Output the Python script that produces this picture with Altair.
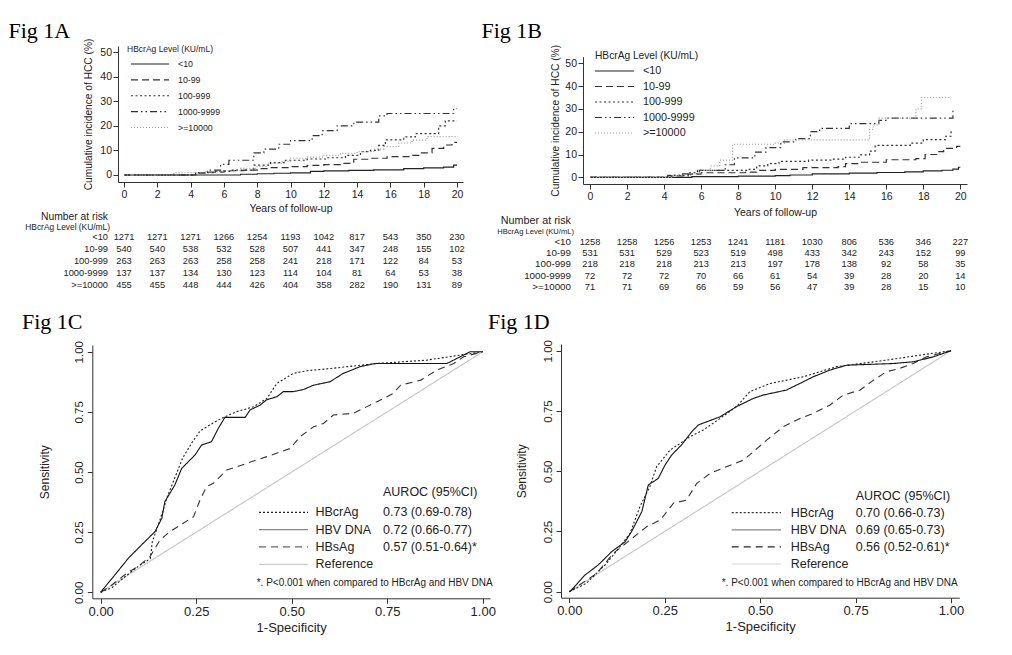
import altair as alt
import pandas as pd

W, H, M = 996, 639, 8
SANS = "Liberation Sans"
SERIF = "Liberation Serif"
INK = "#222222"

# ---------------- Fig 1A / 1B : cumulative incidence (step curves) ----------------
groups = ["<10", "10-99", "100-999", "1000-9999", ">=10000"]
years = [0, 2, 4, 6, 8, 10, 12, 14, 16, 18, 20]

A_t_lt10 = [0, 7.0, 8.0, 9.0, 10.0, 11.2, 12.0, 13.5, 15.0, 16.8, 18.0, 19.2, 19.8, 20.0]
A_v_lt10 = [0, 0.3, 0.5, 0.7, 0.9, 1.5, 1.7, 1.9, 2.1, 2.6, 2.9, 3.2, 4.0, 4.0]
A_t_10_99 = [0, 4.3, 5.0, 6.0, 7.2, 8.1, 8.8, 10.0, 11.0, 12.0, 13.0, 13.8, 14.8, 15.8, 17.2, 17.8, 18.5, 19.2, 19.7, 20.0]
A_v_10_99 = [0, 0.8, 1.2, 1.8, 2.0, 2.6, 3.0, 3.4, 3.9, 4.2, 4.7, 6.4, 6.8, 7.5, 8.0, 9.0, 10.8, 12.2, 13.3, 13.3]
A_t_100_999 = [0, 4.3, 5.5, 6.5, 7.8, 8.8, 9.7, 11.0, 12.2, 13.3, 14.2, 14.8, 15.3, 15.7, 16.8, 17.5, 18.9, 19.3, 20.0]
A_v_100_999 = [0, 1.0, 1.5, 2.0, 4.0, 5.0, 6.0, 6.5, 7.0, 8.0, 9.5, 10.0, 12.0, 14.3, 15.5, 16.8, 20.0, 22.0, 22.0]
A_t_1000 = [0, 4.3, 5.0, 5.8, 6.3, 7.8, 8.4, 9.3, 10.0, 11.3, 11.9, 12.8, 13.8, 15.3, 15.8, 19.8, 20.0]
A_v_1000 = [0, 0.8, 2.0, 4.3, 6.0, 9.0, 10.5, 12.5, 14.0, 16.0, 18.0, 20.0, 21.5, 24.0, 25.0, 27.0, 27.0]
A_t_10000 = [0, 3.0, 4.8, 6.0, 7.0, 8.0, 8.6, 9.5, 10.0, 11.0, 12.0, 13.0, 14.0, 15.0, 15.6, 16.5, 17.3, 18.2, 20.0]
A_v_10000 = [0, 1.0, 1.3, 1.8, 2.7, 3.5, 4.7, 5.5, 6.8, 7.3, 8.0, 8.8, 9.5, 10.5, 11.5, 13.0, 14.2, 15.6, 15.6]

B_t_lt10 = [0, 5.5, 8.0, 10.0, 10.8, 12.0, 14.0, 15.5, 17.0, 18.0, 19.0, 19.6, 19.9, 20.0]
B_v_lt10 = [0, 0.3, 0.5, 0.7, 1.0, 1.5, 1.8, 2.1, 2.4, 2.8, 3.1, 3.6, 4.4, 4.4]
B_t_10_99 = [0, 4.4, 5.3, 6.0, 8.4, 9.0, 10.0, 11.5, 13.4, 13.8, 14.6, 16.0, 17.6, 18.1, 18.8, 19.1, 19.8, 20.0]
B_v_10_99 = [0, 0.6, 1.4, 2.0, 2.3, 3.0, 3.5, 4.2, 4.7, 6.0, 6.6, 7.7, 8.2, 10.0, 11.3, 12.7, 13.6, 13.6]
B_t_100_999 = [0, 4.4, 5.3, 5.8, 8.6, 9.0, 9.6, 10.2, 11.8, 13.0, 13.8, 14.6, 15.1, 15.4, 17.3, 18.0, 19.2, 19.5]
B_v_100_999 = [0, 0.8, 2.0, 3.0, 3.5, 5.0, 6.0, 7.0, 7.5, 8.0, 8.8, 9.8, 11.5, 14.0, 15.0, 16.5, 18.0, 20.5]
B_t_1000 = [0, 4.2, 5.0, 5.9, 7.3, 7.8, 8.9, 9.5, 10.3, 11.1, 11.9, 12.4, 14.0, 15.6, 16.1, 19.6]
B_v_1000 = [0, 0.8, 1.5, 3.0, 5.5, 8.5, 11.0, 13.0, 15.5, 17.0, 20.0, 21.5, 23.5, 25.0, 26.0, 30.5]
B_t_10000 = [0, 4.5, 5.5, 6.0, 6.5, 7.0, 7.7, 10.0, 10.5, 15.1, 15.3, 15.6, 17.6, 17.9, 19.4]
B_v_10000 = [0, 0.8, 1.5, 3.0, 5.0, 7.5, 14.5, 15.0, 16.4, 21.0, 23.0, 26.0, 30.0, 35.0, 35.0]

# number at risk
A_risk_lt10 = [1271, 1271, 1271, 1266, 1254, 1193, 1042, 817, 543, 350, 230]
A_risk_10_99 = [540, 540, 538, 532, 528, 507, 441, 347, 248, 155, 102]
A_risk_100_999 = [263, 263, 263, 258, 258, 241, 218, 171, 122, 84, 53]
A_risk_1000 = [137, 137, 134, 130, 123, 114, 104, 81, 64, 53, 38]
A_risk_10000 = [455, 455, 448, 444, 426, 404, 358, 282, 190, 131, 89]
B_risk_lt10 = [1258, 1258, 1256, 1253, 1241, 1181, 1030, 806, 536, 346, 227]
B_risk_10_99 = [531, 531, 529, 523, 519, 498, 433, 342, 243, 152, 99]
B_risk_100_999 = [218, 218, 218, 213, 213, 197, 178, 138, 92, 58, 35]
B_risk_1000 = [72, 72, 72, 70, 66, 61, 54, 39, 28, 20, 14]
B_risk_10000 = [71, 71, 69, 66, 59, 56, 47, 39, 28, 15, 10]

# ---------------- Fig 1C / 1D : ROC curves ----------------
roc_names = ["Reference", "HBsAg", "HBV DNA", "HBcrAg"]
ref_x = [0, 1]
ref_y = [0, 1]

C_crag_x = [0, 0.03, 0.06, 0.1, 0.13, 0.135, 0.155, 0.175, 0.195, 0.215, 0.238, 0.26, 0.29, 0.321, 0.356, 0.4, 0.435, 0.461, 0.504, 0.539, 0.6, 0.722, 0.853, 0.941, 1.0]
C_crag_y = [0, 0.02, 0.06, 0.11, 0.14, 0.21, 0.3, 0.4, 0.48, 0.56, 0.62, 0.67, 0.7, 0.727, 0.751, 0.771, 0.806, 0.868, 0.91, 0.921, 0.93, 0.951, 0.965, 0.986, 1.0]
C_dna_x = [0, 0.01, 0.037, 0.072, 0.107, 0.142, 0.151, 0.16, 0.168, 0.194, 0.212, 0.247, 0.264, 0.29, 0.308, 0.325, 0.378, 0.391, 0.417, 0.434, 0.461, 0.478, 0.504, 0.531, 0.557, 0.6, 0.635, 0.679, 0.718, 0.906, 0.941, 0.967, 1.0]
C_dna_y = [0, 0.02, 0.072, 0.141, 0.197, 0.252, 0.28, 0.308, 0.377, 0.446, 0.515, 0.571, 0.612, 0.626, 0.682, 0.727, 0.727, 0.758, 0.778, 0.8, 0.813, 0.834, 0.834, 0.843, 0.861, 0.875, 0.91, 0.938, 0.951, 0.951, 0.979, 1.0, 1.0]
C_sag_x = [0, 0.024, 0.068, 0.1, 0.129, 0.155, 0.181, 0.216, 0.243, 0.26, 0.277, 0.295, 0.33, 0.382, 0.435, 0.496, 0.522, 0.557, 0.583, 0.609, 0.661, 0.723, 0.766, 0.785, 0.838, 0.88, 0.924, 0.95, 1.0]
C_sag_y = [0, 0.024, 0.079, 0.11, 0.148, 0.217, 0.252, 0.287, 0.314, 0.384, 0.439, 0.453, 0.508, 0.536, 0.564, 0.598, 0.647, 0.688, 0.702, 0.737, 0.744, 0.792, 0.827, 0.861, 0.882, 0.924, 0.951, 0.979, 1.0]

D_crag_x = [0, 0.045, 0.098, 0.133, 0.159, 0.185, 0.211, 0.229, 0.264, 0.29, 0.316, 0.351, 0.395, 0.438, 0.473, 0.526, 0.613, 0.7, 0.831, 0.919, 1.0]
D_crag_y = [0, 0.035, 0.118, 0.187, 0.242, 0.353, 0.436, 0.519, 0.588, 0.615, 0.643, 0.671, 0.719, 0.768, 0.83, 0.864, 0.892, 0.934, 0.961, 0.982, 1.0]
D_dna_x = [0, 0.006, 0.041, 0.076, 0.111, 0.146, 0.163, 0.19, 0.207, 0.233, 0.251, 0.268, 0.294, 0.321, 0.338, 0.395, 0.438, 0.482, 0.508, 0.569, 0.604, 0.639, 0.683, 0.727, 0.849, 0.901, 0.954, 1.0]
D_dna_y = [0, 0.007, 0.069, 0.111, 0.166, 0.207, 0.249, 0.332, 0.443, 0.47, 0.526, 0.567, 0.609, 0.664, 0.692, 0.726, 0.768, 0.802, 0.816, 0.837, 0.864, 0.892, 0.92, 0.94, 0.947, 0.954, 0.975, 1.0]
D_sag_x = [0, 0.072, 0.115, 0.159, 0.203, 0.238, 0.273, 0.307, 0.334, 0.369, 0.412, 0.456, 0.482, 0.517, 0.561, 0.604, 0.639, 0.683, 0.718, 0.762, 0.797, 0.831, 0.866, 0.901, 0.936, 1.0]
D_sag_y = [0, 0.076, 0.159, 0.214, 0.27, 0.297, 0.367, 0.38, 0.45, 0.491, 0.519, 0.546, 0.581, 0.629, 0.685, 0.719, 0.74, 0.775, 0.816, 0.837, 0.878, 0.913, 0.927, 0.947, 0.975, 1.0]

leg_names = ["HBcrAg", "HBV DNA", "HBsAg", "Reference"]
C_auroc = ["0.73 (0.69-0.78)", "0.72 (0.66-0.77)", "0.57 (0.51-0.64)*", ""]
D_auroc = ["0.70 (0.66-0.73)", "0.69 (0.65-0.73)", "0.56 (0.52-0.61)*", ""]
roc_ticks = [0, 0.25, 0.5, 0.75, 1.0]

# ---------------- styles ----------------
km_dash = [[1, 0], [7, 4], [2, 2.5], [7, 3, 1.5, 3, 1.5, 3], [1, 2]]
km_col = ["#222222", "#333333", "#333333", "#333333", "#a0a0a0"]
roc_dash = [[1, 0], [7, 5], [1, 0], [2, 2]]
roc_col = ["#c4c4c4", "#333333", "#111111", "#222222"]

# panel geometry (page pixels of axis extents, matching data extents)
PA = dict(xd=[-0.36, 20.36], xr=[118, 463], yd=[-2.85, 52.44], yr=[182, 46])
PB = dict(xd=[-0.38, 20.36], xr=[583, 967], yd=[-2.94, 52.9], yr=[184, 56.7])
PC = dict(xd=[-0.022, 1.019], xr=[92.3, 490], yd=[-0.025, 1.028], yr=[598.3, 345])
PD = dict(xd=[-0.0217, 1.0217], xr=[561, 959.3], yd=[-0.025, 1.028], yr=[597.7, 344])


def lin(domain, rng):
    return alt.Scale(domain=domain, range=[r - M for r in rng], nice=False, zero=False)


def axis_common():
    return dict(grid=False, domainColor="#333333", tickColor="#333333", labelColor=INK,
                titleColor=INK, labelFont=SANS, titleFont=SANS, titleFontWeight="normal",
                labelFlush=False, labelOverlap=False, domainWidth=1, tickWidth=1)


def note(text, x, y, size, font=SANS, align="left", baseline="middle", color=INK):
    return alt.Chart(pd.DataFrame({"s": [text]})).mark_text(
        align=align, baseline=baseline, font=font, fontSize=size, color=color
    ).encode(x=alt.value(x - M), y=alt.value(y - M), text="s:N")


def km_layer(P, series, xtitle_pad, ytitle_pad, xlab_pad):
    rows = []
    for g, (ts, vs) in zip(groups, series):
        for i, (t, v) in enumerate(zip(ts, vs)):
            rows.append({"g": g, "t": t, "v": v, "i": i})
    df = pd.DataFrame(rows)
    xa = alt.Axis(orient="bottom", offset=(P["yr"][0] - M) - H, values=years, format="d",
                  title="Years of follow-up", tickSize=5, labelPadding=xlab_pad,
                  titlePadding=xtitle_pad, labelFontSize=10.5, titleFontSize=10.5,
                  **axis_common())
    ya = alt.Axis(orient="left", offset=-(P["xr"][0] - M), values=[0, 10, 20, 30, 40, 50],
                  format="d", title="Cumulative incidence of HCC (%)", tickSize=5,
                  labelPadding=1.5, titlePadding=ytitle_pad, labelFontSize=10.5,
                  titleFontSize=10.2, **axis_common())
    return alt.Chart(df).mark_line(interpolate="step-after", strokeWidth=1.2).encode(
        x=alt.X("t:Q", scale=lin(P["xd"], P["xr"]), axis=xa),
        y=alt.Y("v:Q", scale=lin(P["yd"], P["yr"]), axis=ya),
        color=alt.Color("g:N", scale=alt.Scale(domain=groups, range=km_col), legend=None),
        strokeDash=alt.StrokeDash("g:N", scale=alt.Scale(domain=groups, range=km_dash), legend=None),
        order="i:Q",
    )


def km_legend(x0, x1, xl, y0, y1, size):
    df = pd.DataFrame({"g": groups, "r": list(range(len(groups)))})
    ys = alt.Scale(domain=[0, len(groups) - 1], range=[y0 - M, y1 - M], nice=False, zero=False)
    rule = alt.Chart(df).mark_rule(strokeWidth=1.2).encode(
        x=alt.value(x0 - M), x2=alt.value(x1 - M),
        y=alt.Y("r:Q", scale=ys, axis=None),
        color=alt.Color("g:N", scale=alt.Scale(domain=groups, range=km_col), legend=None),
        strokeDash=alt.StrokeDash("g:N", scale=alt.Scale(domain=groups, range=km_dash), legend=None),
    )
    txt = alt.Chart(df).mark_text(align="left", baseline="middle", font=SANS, fontSize=size,
                                  color=INK).encode(
        x=alt.value(xl - M), y=alt.Y("r:Q", scale=ys, axis=None), text="g:N")
    return [rule, txt]


def risk_table(P, risks, row_top, row_bot, label_right, size_num, size_lab):
    rows = []
    for g, vals in zip(groups, risks):
        for yv, n in zip(years, vals):
            rows.append({"g": g, "yr": yv, "n": str(n)})
    df = pd.DataFrame(rows)
    ys = alt.Scale(type="point", domain=groups, range=[row_top - M, row_bot - M], padding=0)
    nums = alt.Chart(df).mark_text(align="center", baseline="middle", font=SANS,
                                   fontSize=size_num, color=INK).encode(
        x=alt.X("yr:Q", scale=lin(P["xd"], P["xr"]), axis=None),
        y=alt.Y("g:N", scale=ys, axis=None), text="n:N")
    labs = alt.Chart(pd.DataFrame({"g": groups})).mark_text(
        align="right", baseline="middle", font=SANS, fontSize=size_lab, color=INK).encode(
        x=alt.value(label_right - M), y=alt.Y("g:N", scale=ys, axis=None), text="g:N")
    return [nums, labs]


def roc_layer(P, curves, ytitle_pad):
    rows = []
    for name, (xs, ys_) in zip(roc_names, curves):
        for i, (a, b) in enumerate(zip(xs, ys_)):
            rows.append({"g": name, "fpr": a, "tpr": b, "i": i})
    df = pd.DataFrame(rows)
    xa = alt.Axis(orient="bottom", offset=(P["yr"][0] - M) - H, values=roc_ticks, format=".2f",
                  title="1-Specificity", tickSize=5, labelPadding=2, titlePadding=3,
                  labelFontSize=13, titleFontSize=13, **axis_common())
    ya = alt.Axis(orient="left", offset=-(P["xr"][0] - M), values=roc_ticks, format=".2f",
                  title="Sensitivity", tickSize=5, labelPadding=3, titlePadding=ytitle_pad,
                  labelAngle=270, labelAlign="center", labelBaseline="bottom",
                  labelFontSize=11.5, titleFontSize=12, **axis_common())
    return alt.Chart(df).mark_line(strokeWidth=1.1).encode(
        x=alt.X("fpr:Q", scale=lin(P["xd"], P["xr"]), axis=xa),
        y=alt.Y("tpr:Q", scale=lin(P["yd"], P["yr"]), axis=ya),
        color=alt.Color("g:N", scale=alt.Scale(domain=roc_names, range=roc_col), legend=None),
        strokeDash=alt.StrokeDash("g:N", scale=alt.Scale(domain=roc_names, range=roc_dash), legend=None),
        order="i:Q",
    )


def roc_legend(values, cols, x0, x1, xl, xv, y0, y1, hy, fx, fy):
    df = pd.DataFrame({"g": leg_names, "v": values, "r": list(range(4))})
    ys = alt.Scale(domain=[0, 3], range=[y0 - M, y1 - M], nice=False, zero=False)
    dash = [[2, 2], [1, 0], [7, 5], [1, 0]]
    rule = alt.Chart(df).mark_rule(strokeWidth=1.2).encode(
        x=alt.value(x0 - M), x2=alt.value(x1 - M),
        y=alt.Y("r:Q", scale=ys, axis=None),
        color=alt.Color("g:N", scale=alt.Scale(domain=leg_names, range=cols), legend=None),
        strokeDash=alt.StrokeDash("g:N", scale=alt.Scale(domain=leg_names, range=dash), legend=None),
    )
    lab = alt.Chart(df).mark_text(align="left", baseline="middle", font=SANS, fontSize=12.5,
                                  color=INK).encode(
        x=alt.value(xl - M), y=alt.Y("r:Q", scale=ys, axis=None), text="g:N")
    val = alt.Chart(df).mark_text(align="left", baseline="middle", font=SANS, fontSize=12.5,
                                  color=INK).encode(
        x=alt.value(xv - M), y=alt.Y("r:Q", scale=ys, axis=None), text="v:N")
    head = note("AUROC (95%CI)", xv, hy, 12.5)
    foot = note("*. P<0.001 when compared to HBcrAg and HBV DNA", fx, fy, 10)
    return [rule, lab, val, head, foot]


layers = []
# ---- Fig 1A
layers.append(note("Fig 1A", 8.5, 37.5, 22, font=SERIF, baseline="alphabetic", color="#000000"))
layers.append(km_layer(PA, [(A_t_lt10, A_v_lt10), (A_t_10_99, A_v_10_99), (A_t_100_999, A_v_100_999),
                            (A_t_1000, A_v_1000), (A_t_10000, A_v_10000)], 4, 6, 2))
layers.append(note("HBcrAg Level (KU/mL)", 127, 49, 8.5))
layers += km_legend(131, 169, 178, 64, 127.5, 8.8)
layers.append(note("Number at risk", 108, 217, 10.3, align="right"))
layers.append(note("HBcrAg Level (KU/mL)", 110, 227, 8.4, align="right"))
layers += risk_table(PA, [A_risk_lt10, A_risk_10_99, A_risk_100_999, A_risk_1000, A_risk_10000],
                     237, 284.5, 108, 9.3, 9.3)

# ---- Fig 1B
layers.append(note("Fig 1B", 481.5, 37.5, 22, font=SERIF, baseline="alphabetic", color="#000000"))
layers.append(km_layer(PB, [(B_t_lt10, B_v_lt10), (B_t_10_99, B_v_10_99), (B_t_100_999, B_v_100_999),
                            (B_t_1000, B_v_1000), (B_t_10000, B_v_10000)], 5, 4, 2.5))
layers.append(note("HBcrAg Level (KU/mL)", 595, 56, 10.2))
layers += km_legend(595, 634, 643, 71, 133, 10.8)
layers.append(note("Number at risk", 571, 221, 10.8, align="right"))
layers.append(note("HBcrAg Level (KU/mL)", 574, 231.5, 7.6, align="right"))
layers += risk_table(PB, [B_risk_lt10, B_risk_10_99, B_risk_100_999, B_risk_1000, B_risk_10000],
                     241.5, 287, 571, 9.3, 9.8)

# ---- Fig 1C
layers.append(note("Fig 1C", 22, 329, 22, font=SERIF, baseline="alphabetic", color="#000000"))
layers.append(roc_layer(PC, [(ref_x, ref_y), (C_sag_x, C_sag_y), (C_dna_x, C_dna_y), (C_crag_x, C_crag_y)], 22))
layers += roc_legend(C_auroc, ["#222222", "#888888", "#666666", "#cccccc"],
                     259, 308, 315.5, 383, 512.3, 564.3, 491.7, 256.7, 583.3)

# ---- Fig 1D
layers.append(note("Fig 1D", 488, 329, 22, font=SERIF, baseline="alphabetic", color="#000000"))
layers.append(roc_layer(PD, [(ref_x, ref_y), (D_sag_x, D_sag_y), (D_dna_x, D_dna_y), (D_crag_x, D_crag_y)], 14))
layers += roc_legend(D_auroc, ["#333333", "#888888", "#222222", "#d4d4d4"],
                     731.7, 781, 790.7, 855.7, 512.7, 564, 495.7, 721.7, 582.7)

chart = alt.layer(*layers).resolve_scale(
    x="independent", y="independent", color="independent", strokeDash="independent"
).properties(
    width=W, height=H, autosize=alt.AutoSizeParams(type="none"), padding=0, background="white"
).configure_view(stroke=None)

chart.save("out.html", embed_options={"renderer": "svg", "actions": False})
